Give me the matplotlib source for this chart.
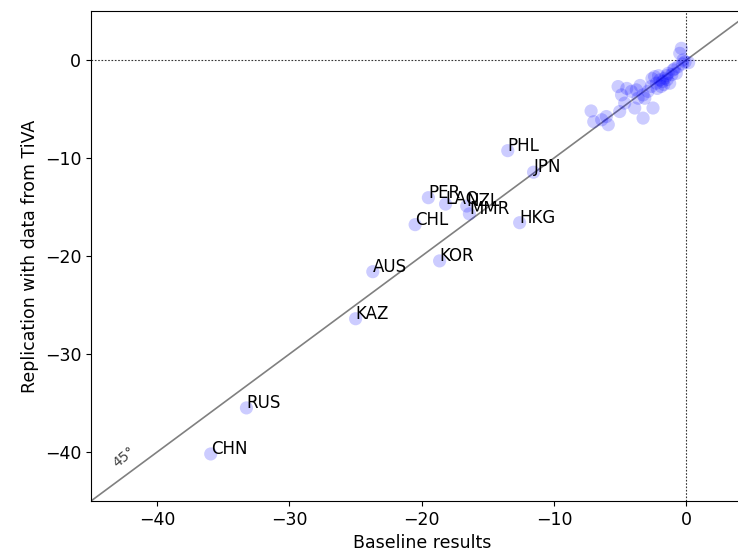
import matplotlib
matplotlib.use("Agg")
import matplotlib.pyplot as plt

# Labeled countries
codes = ["PHL", "JPN", "PER", "LAO", "NZL", "MMR", "CHL", "HKG", "KOR", "AUS", "KAZ", "RUS", "CHN"]
lab_x = [-13.5, -11.55, -19.5, -18.2, -16.6, -16.4, -20.5, -12.6, -18.65, -23.7, -25.0, -33.25, -35.95]
lab_y = [-9.25, -11.45, -14.05, -14.7, -14.9, -15.7, -16.8, -16.6, -20.5, -21.6, -26.4, -35.5, -40.2]

# Unlabeled points (cluster near zero)
cl_x = [-0.38, 0.17, -0.25, -0.63, -1.0, -1.38, -1.64, -2.0, -2.27, -2.4, -1.9, -2.65, -2.9,
        -3.27, -1.26, -0.76, -0.5, -5.16, -4.5, -4.16, -3.78, -3.65, -4.9, -4.66, -3.9,
        -5.04, -3.27, -2.52, -3.14, -6.05, -6.4, -5.9, -7.2, -7.0, -1.5, -1.1, -1.8,
        -2.1, -0.9, -1.7, -2.2, -0.3, -1.45, -2.6, -3.5, -0.1]
cl_y = [1.19, -0.27, 0.0, -0.68, -1.02, -1.36, -1.86, -2.03, -2.37, -1.7, -2.7, -2.7, -3.2,
        -3.56, -2.37, -1.36, 0.68, -2.71, -2.9, -3.2, -3.05, -3.9, -3.56, -4.4, -4.9,
        -5.26, -5.93, -4.9, -3.9, -5.77, -6.1, -6.6, -5.2, -6.3, -1.6, -1.5, -2.2,
        -1.6, -0.9, -2.5, -2.9, -0.4, -2.0, -1.9, -2.6, -0.2]

xlim = (-45, 5)
ylim = (-45, 5)

fig = plt.figure(figsize=(7.38, 5.56), dpi=100)
ax = fig.add_axes([91/738, 55/556, 661.5/738, 490/556])

ax.plot([-45, 5], [-45, 5], color="gray", lw=1.2, zorder=1)
ax.axhline(0, color="#333333", lw=0.8, ls=(0, (1.5, 1.5)), zorder=1)
ax.axvline(0, color="#333333", lw=0.8, ls=(0, (1.5, 1.5)), zorder=1)

ax.scatter(cl_x, cl_y, s=90, color="blue", alpha=0.2, edgecolors="none", zorder=2)
ax.scatter(lab_x, lab_y, s=90, color="blue", alpha=0.2, edgecolors="none", zorder=2)
for c, x, y in zip(codes, lab_x, lab_y):
    ax.text(x, y, c, fontsize=12, zorder=3)

ax.text(-42.5, -40.5, "45°", fontsize=10, rotation=40, color="#444444",
        ha="center", va="center")

ax.set_xlim(*xlim)
ax.set_ylim(*ylim)
ax.set_xticks([-40, -30, -20, -10, 0])
ax.set_yticks([-40, -30, -20, -10, 0])
ax.tick_params(labelsize=12.5)
ax.set_xlabel("Baseline results", fontsize=12.5)
ax.set_ylabel("Replication with data from TiVA", fontsize=12.5)

fig.savefig("out.png", dpi=100)
